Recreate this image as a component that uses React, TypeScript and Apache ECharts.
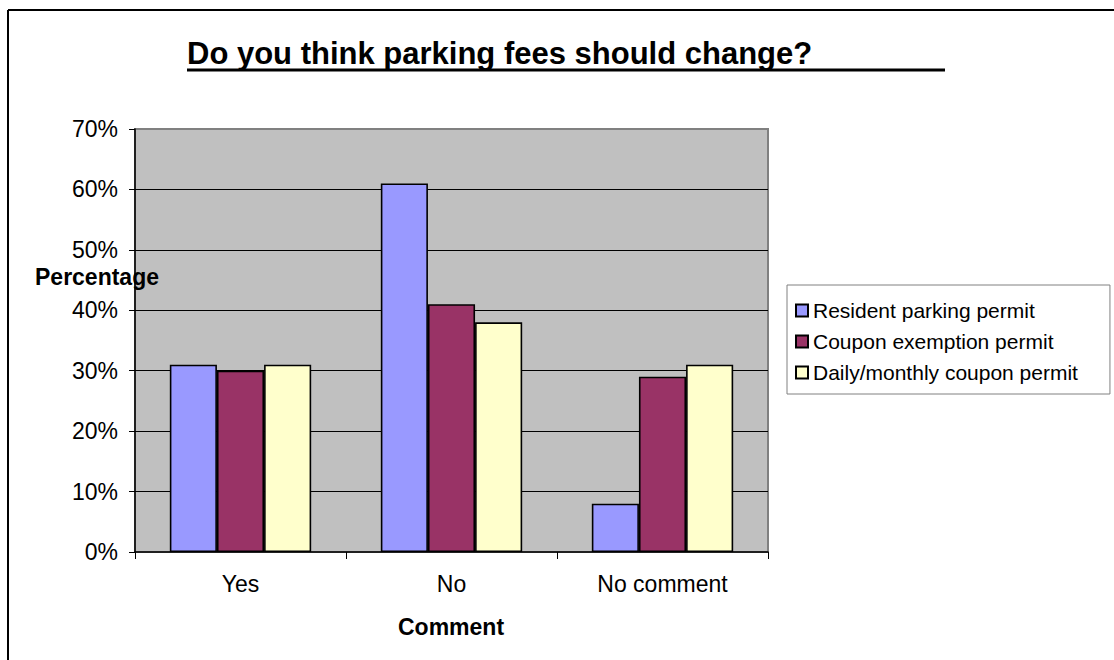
import React, { useEffect, useRef } from "react";
import * as echarts from "echarts";

const categories = ["Yes", "No", "No comment"];
const seriesNames = ["Resident parking permit", "Coupon exemption permit", "Daily/monthly coupon permit"];
const residentValues = [31, 61, 8];
const couponExemptionValues = [30, 41, 29];
const dailyMonthlyValues = [31, 38, 31];
const seriesColors = ["#9999FF", "#993366", "#FFFFCC"];
const yTicks = { min: 0, max: 70, interval: 10 };

const FONT = "'Liberation Sans', Arial, Helvetica, sans-serif";

export default function App() {
  const ref = useRef<HTMLDivElement>(null);
  useEffect(() => {
    if (!ref.current) return;
    const chart = echarts.init(ref.current, undefined, { renderer: "svg" });
    const values = [residentValues, couponExemptionValues, dailyMonthlyValues];
    chart.setOption({
      animation: false,
      backgroundColor: "#ffffff",
      textStyle: { fontFamily: FONT, color: "#000" },
      title: {
        text: "Do you think parking fees should change?",
        left: 187,
        top: 38,
        padding: 0,
        textStyle: { fontFamily: FONT, fontSize: 31, fontWeight: "bold", color: "#000" },
      },
      legend: {
        orient: "vertical",
        left: 787,
        top: 285,
        padding: [15, 32, 11, 8],
        itemGap: 10,
        itemWidth: 12,
        itemHeight: 12,
        icon: "rect",
        borderColor: "#808080",
        borderWidth: 1,
        textStyle: { fontFamily: FONT, fontSize: 21, color: "#000" },
        data: seriesNames,
      },
      grid: {
        left: 135,
        right: 346,
        top: 129,
        bottom: 108,
        show: true,
        backgroundColor: "#C0C0C0",
        borderColor: "#808080",
        borderWidth: 2,
      },
      xAxis: {
        type: "category",
        data: categories,
        axisLine: { show: true, lineStyle: { color: "#000", width: 1.5 } },
        axisTick: { show: true, length: 7, lineStyle: { color: "#000", width: 1 } },
        axisLabel: { fontFamily: FONT, fontSize: 23, color: "#000", margin: 20 },
        splitLine: { show: false },
      },
      yAxis: {
        type: "value",
        min: yTicks.min,
        max: yTicks.max,
        interval: yTicks.interval,
        axisLine: { show: true, lineStyle: { color: "#000", width: 1.5 } },
        axisTick: { show: true, length: 6, lineStyle: { color: "#000", width: 1 } },
        axisLabel: { fontFamily: FONT, fontSize: 23, color: "#000", margin: 17, formatter: "{value}%" },
        splitLine: { show: true, showMinLine: false, showMaxLine: false, lineStyle: { color: "#000", width: 1 } },
      },
      series: seriesNames.map((name, i) => ({
        name,
        type: "bar",
        data: values[i],
        barGap: "0%",
        barCategoryGap: "33%",
        itemStyle: { color: seriesColors[i], borderColor: "#000", borderWidth: 1.6 },
      })),
      graphic: [
        { type: "line", shape: { x1: 8, y1: 10, x2: 1114, y2: 10 }, style: { stroke: "#000", lineWidth: 2 } },
        { type: "line", shape: { x1: 8, y1: 10, x2: 8, y2: 660 }, style: { stroke: "#000", lineWidth: 2 } },
        { type: "line", shape: { x1: 187, y1: 70, x2: 945, y2: 70 }, style: { stroke: "#000", lineWidth: 3 } },
        {
          type: "text",
          left: 35,
          top: 265,
          z: 100,
          style: { text: "Percentage", fontFamily: FONT, fontSize: 23, fontWeight: "bold", fill: "#000" },
        },
        {
          type: "text",
          left: 398,
          top: 615,
          style: { text: "Comment", fontFamily: FONT, fontSize: 23, fontWeight: "bold", fill: "#000" },
        },
      ],
    });
    return () => chart.dispose();
  }, []);
  return <div ref={ref} style={{ position: "absolute", left: 0, top: 0, width: 1114, height: 660 }} />;
}
